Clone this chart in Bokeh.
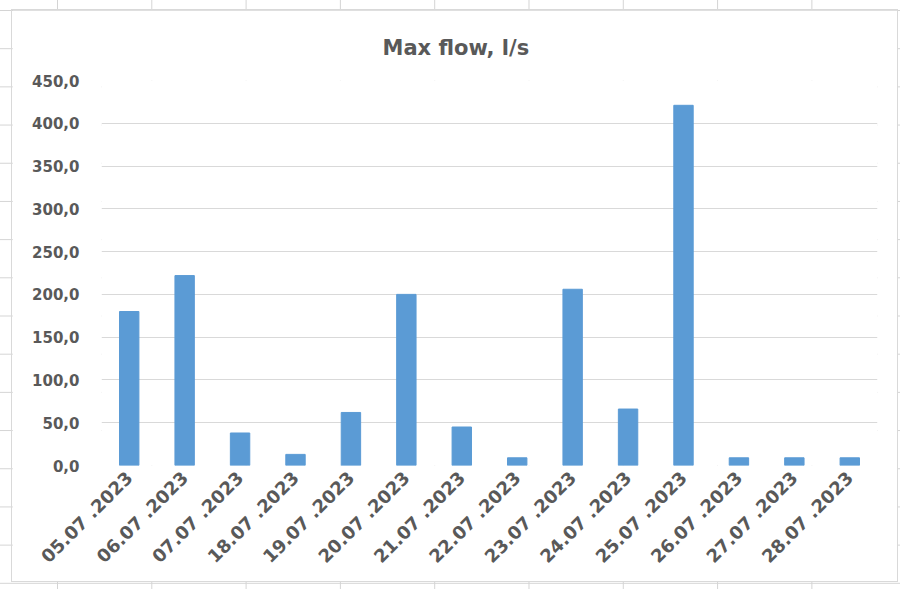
from bokeh.plotting import figure
from bokeh.models import Range1d, FactorRange, FixedTicker, ColumnDataSource, Column
from bokeh.embed import file_html
from bokeh.resources import INLINE
import math

chart_title = "Max flow, l/s"
dates = ["05.07 .2023", "06.07 .2023", "07.07 .2023", "18.07 .2023", "19.07 .2023",
         "20.07 .2023", "21.07 .2023", "22.07 .2023", "23.07 .2023", "24.07 .2023",
         "25.07 .2023", "26.07 .2023", "27.07 .2023", "28.07 .2023"]
max_flow = [180, 222, 38, 13, 62, 200, 45, 9, 206, 66, 421, 9, 9, 9]
y_ticks = [0, 50, 100, 150, 200, 250, 300, 350, 400, 450]
y_tick_labels = ["0,0", "50,0", "100,0", "150,0", "200,0", "250,0", "300,0", "350,0", "400,0", "450,0"]

src = ColumnDataSource(data=dict(date=dates, flow=max_flow))

p = figure(width=885, height=571, output_backend="svg", toolbar_location=None,
           x_range=FactorRange(*dates, range_padding=0), y_range=Range1d(0, 450),
           title=chart_title,
           min_border_left=89, min_border_right=20, min_border_top=70, min_border_bottom=116)
p.margin = (10, 0, 0, 12)
p.styles = {"outline": "1px solid #d9d9d9"}

p.vbar(x="date", top="flow", width=0.35, source=src, fill_color="#5b9bd5",
       line_color="#5b9bd5")

p.title.align = "left"
p.title.offset = 281
p.title.vertical_align = "middle"
p.title.text_font = "DejaVu Sans"
p.title.text_font_style = "bold"
p.title.text_font_size = "21px"
p.title.text_color = "#595959"
p.title.standoff = 40

p.outline_line_color = None
p.xgrid.grid_line_color = None
p.ygrid.grid_line_color = "#d9d9d9"
p.ygrid.grid_line_width = 1

p.yaxis.ticker = FixedTicker(ticks=y_ticks)
p.yaxis.major_label_overrides = {t: l for t, l in zip(y_ticks, y_tick_labels)}

for ax in (p.xaxis[0], p.yaxis[0]):
    ax.axis_line_color = None
    ax.major_tick_line_color = None
    ax.minor_tick_line_color = None
    ax.major_tick_out = 0
    ax.major_tick_in = 0
    ax.major_label_text_font = "DejaVu Sans"
    ax.major_label_text_font_style = "bold"
    ax.major_label_text_color = "#595959"
    ax.major_label_text_font_size = "15px"

p.yaxis.major_label_standoff = 22
p.xaxis.major_label_standoff = 9
p.xaxis.major_label_orientation = math.pi / 4
p.xaxis.major_label_text_font_size = "18px"

sheet = Column(p, width=900, height=589, styles={
    "background-color": "#ffffff",
    "background-image": "linear-gradient(to right, #d4d4d4 1px, transparent 1px), "
                        "linear-gradient(to bottom, #d4d4d4 1px, transparent 1px)",
    "background-size": "94.3px 38.2px",
    "background-position": "57px 10px",
})

open("out.html", "w").write(file_html(sheet, INLINE))
